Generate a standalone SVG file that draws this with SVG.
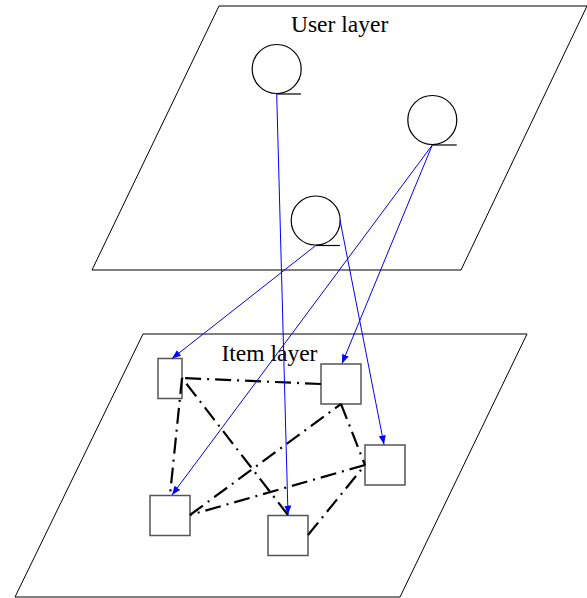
<svg xmlns="http://www.w3.org/2000/svg" width="587" height="598" viewBox="0 0 587 598">
  <defs>
    <marker id="blueArrow" markerUnits="userSpaceOnUse" markerWidth="10" markerHeight="8" refX="9" refY="3.5" orient="auto">
      <path d="M0,0 L9,3.5 L0,7 z" fill="#0000ff"/>
    </marker>
    <style>
      .plane { fill: #ffffff; stroke: #000000; stroke-width: 1; }
      .user { fill: #ffffff; stroke: #000000; stroke-width: 1.2; }
      .base { stroke: #000000; stroke-width: 1.2; fill: none; }
      .item { fill: #ffffff; stroke: #555555; stroke-width: 1.5; }
      .label { font-family: "Liberation Serif", "Times New Roman", serif; font-size: 23.5px; fill: #000000; }
      .link { stroke: #000000; stroke-width: 2.2; fill: none; stroke-dasharray: 16 6 2 6; }
      .rel { stroke: #0000ff; stroke-width: 1; fill: none; marker-end: url(#blueArrow); }
    </style>
  </defs>

  <g id="user-layer">
    <polygon class="plane" points="219,6 587,6 461,270 92,270"/>
    <text class="label" x="291" y="31.5">User layer</text>
  </g>

  <g id="item-layer">
    <polygon class="plane" points="143,334 527,334 400,597 15,597"/>
    <text class="label" x="221.5" y="360.5">Item layer</text>
  </g>

  <g id="user1">
    <circle class="user" cx="276.7" cy="69" r="24.5"/>
    <line class="base" x1="276.7" y1="94" x2="301" y2="94"/>
  </g>
  <g id="user2">
    <circle class="user" cx="432.3" cy="120" r="24.5"/>
    <line class="base" x1="432.3" y1="145" x2="456.7" y2="145"/>
  </g>
  <g id="user3">
    <circle class="user" cx="315.7" cy="220.5" r="24.5"/>
    <line class="base" x1="315.7" y1="245.5" x2="340" y2="245.5"/>
  </g>

  <g id="item1"><rect class="item" x="158" y="358.5" width="24" height="40"/></g>
  <g id="item2"><rect class="item" x="321" y="364" width="40" height="40"/></g>
  <g id="item3"><rect class="item" x="365" y="445" width="40" height="40"/></g>
  <g id="item4"><rect class="item" x="150" y="495.5" width="40" height="40"/></g>
  <g id="item5"><rect class="item" x="268" y="515.5" width="40" height="40"/></g>

  <g id="connectors">
    <line class="link" x1="321" y1="384" x2="182" y2="378"/>
    <line class="link" x1="182" y1="378" x2="170" y2="495"/>
    <line class="link" x1="288" y1="515" x2="182" y2="378"/>
    <line class="link" x1="190" y1="515" x2="341" y2="404"/>
    <line class="link" x1="341" y1="404" x2="365" y2="465"/>
    <line class="link" x1="365" y1="465" x2="190" y2="515"/>
    <line class="link" x1="308" y1="535" x2="365" y2="465"/>

    <line class="rel" x1="276.7" y1="94" x2="288" y2="514.5"/>
    <line class="rel" x1="315.7" y1="245.5" x2="172" y2="358.5"/>
    <line class="rel" x1="340" y1="220" x2="384" y2="444.5"/>
    <line class="rel" x1="432.3" y1="145" x2="172" y2="495"/>
    <line class="rel" x1="432.3" y1="145" x2="342" y2="363.5"/>
  </g>
</svg>
